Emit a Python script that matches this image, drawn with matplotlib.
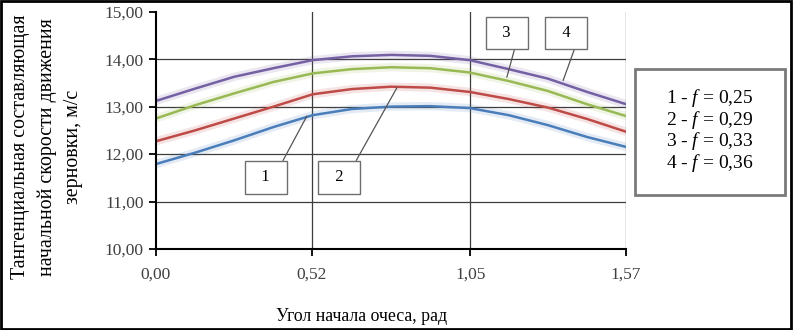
import numpy as np
import matplotlib
matplotlib.use('Agg')
import matplotlib.pyplot as plt
from matplotlib.patches import Rectangle

plt.rcParams['font.family'] = ['Liberation Serif', 'DejaVu Serif']
plt.rcParams['mathtext.fontset'] = 'custom'
plt.rcParams['mathtext.rm'] = 'Liberation Serif'
plt.rcParams['mathtext.it'] = 'Liberation Serif:italic'

# angle of start of stripping, rad (step pi/24)
angle = np.arange(13) * np.pi / 24
v1 = [11.79, 12.03, 12.29, 12.57, 12.82, 12.95, 13.00, 13.01, 12.97, 12.82, 12.61, 12.36, 12.15]
v2 = [12.27, 12.50, 12.75, 13.00, 13.26, 13.37, 13.42, 13.40, 13.31, 13.16, 12.98, 12.74, 12.47]
v3 = [12.75, 13.03, 13.28, 13.52, 13.70, 13.79, 13.83, 13.81, 13.72, 13.54, 13.33, 13.05, 12.80]
v4 = [13.12, 13.38, 13.63, 13.81, 13.98, 14.06, 14.09, 14.07, 13.98, 13.79, 13.59, 13.31, 13.05]
series = [v1, v2, v3, v4]
colors = ['#4a7ebb', '#be4b48', '#98b954', '#7560a4']
legend_lines = ['1 - $f$ = 0,25', '2 - $f$ = 0,29', '3 - $f$ = 0,33', '4 - $f$ = 0,36']

xticks = [0.0, 0.52, 1.05, 1.57]
xticklabels = ['0,00', '0,52', '1,05', '1,57']
yticks = [10, 11, 12, 13, 14, 15]

fig = plt.figure(figsize=(7.93, 3.30), dpi=100)
ax = fig.add_axes([0.1967, 0.2455, 0.5927, 0.719])

for vals, c in zip(series, colors):
    ax.plot(angle, vals, color=c, linewidth=6, alpha=0.15, solid_capstyle='butt')
    ax.plot(angle, vals, color=c, linewidth=1.8)

ax.set_xlim(0, 1.57)
ax.set_ylim(10, 15)
ax.set_xticks(xticks)
ax.set_xticklabels(xticklabels)
ax.set_yticks(yticks)
ax.set_yticklabels([('%.2f' % t).replace('.', ',') for t in yticks])
ax.grid(True, color='#3d3d3d', linewidth=0.9)
ax.get_ygridlines()[-1].set_visible(False)
ax.get_ygridlines()[0].set_visible(False)
ax.get_xgridlines()[0].set_visible(False)
ax.set_axisbelow(True)
for s in ['top', 'right']:
    ax.spines[s].set_visible(False)
for s in ['left', 'bottom']:
    ax.spines[s].set_linewidth(1.5)
ax.tick_params(axis='both', direction='out', length=5, width=1.3, labelsize=12.5, labelcolor='#404040')
ax.tick_params(axis='x', pad=8)
ax.tick_params(axis='y', pad=4)

# number labels with leader lines
labels = [('1', (0.367, 11.51), (0.504, 12.80), (1, 1)),
          ('2', (0.611, 11.51), (0.805, 13.40), (1, 1)),
          ('3', (1.172, 14.55), (1.172, 13.62), (0.9, 0)),
          ('4', (1.370, 14.55), (1.360, 13.55), (0.95, 0))]
for txt, xyt, xy, rp in labels:
    ax.annotate('  %s  ' % txt, xy=xy, xytext=xyt, fontsize=12, ha='center', va='center',
                bbox=dict(boxstyle='square,pad=0.5', fc='white', ec='#6e6e6e', lw=1),
                arrowprops=dict(arrowstyle='-', color='#555555', lw=0.9, relpos=rp,
                                shrinkA=0, shrinkB=0))

fig.text(0.059, 0.555, 'Тангенциальная составляющая\nначальной скорости движения\nзерновки, м/с',
         rotation=90, ha='center', va='center', fontsize=14.3, linespacing=1.5, multialignment='center')
fig.text(0.456, 0.04, 'Угол начала очеса, рад', ha='center', va='center', fontsize=12.8)

# legend box
fig.patches.append(Rectangle((0.8008, 0.409), 0.189, 0.382, transform=fig.transFigure,
                             fill=False, edgecolor='#7a7a7a', linewidth=2))
for i, line in enumerate(legend_lines):
    fig.text(0.895, 1 - (98 + i * 21.7) / 330, line, ha='center', va='center', fontsize=14)

# outer frame
fig.patches.append(Rectangle((0.001, 0.002), 0.997, 0.995, transform=fig.transFigure,
                             fill=False, edgecolor='black', linewidth=2))

fig.savefig('out.png', dpi=100)
